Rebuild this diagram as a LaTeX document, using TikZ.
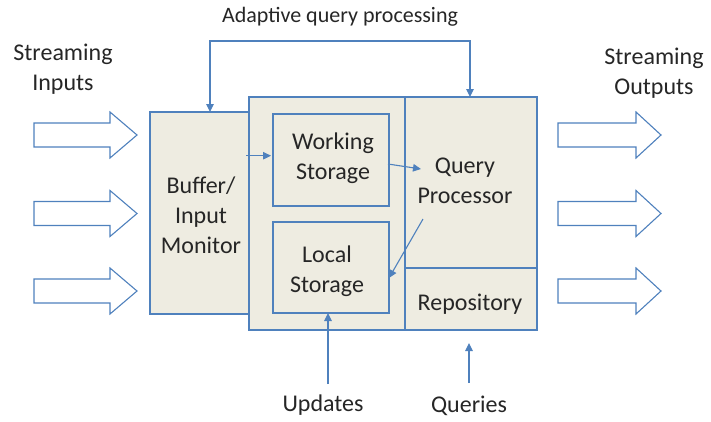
\documentclass[tikz,border=0pt]{standalone}
\usepackage{fontspec}
\setmainfont{Carlito}
\usetikzlibrary{arrows.meta}
\definecolor{lc}{HTML}{4F81BD}
\definecolor{fillc}{HTML}{EEECE1}
\definecolor{txt}{HTML}{262626}
\begin{document}
\begin{tikzpicture}[x=1pt,y=-1pt,
 box/.style={draw=lc,line width=1.3pt,fill=fillc,inner sep=0pt,outer sep=0pt,anchor=north west},
 region/.style={draw=lc,line width=1.3pt,inner sep=0pt,outer sep=0pt,anchor=north west},
 lbl/.style={text=txt,font=\fontsize{24}{30}\selectfont,align=center,inner sep=0pt},
 arr/.style={draw=lc,line width=1.1pt,-{Triangle[length=8pt,width=7.5pt]}},
 arrboth/.style={draw=lc,line width=1.1pt,{Triangle[length=8pt,width=7.5pt]}-{Triangle[length=8pt,width=7.5pt]}},
 fat/.style={draw=lc,line width=1.1pt,fill=white,line join=miter}]
\useasboundingbox (0,0) rectangle (711,421);
% main boxes
\node[box,minimum width=288pt,minimum height=233pt] (big) at (249,97) {};
\node[box,minimum width=99pt,minimum height=202pt] (buffer) at (150,112) {};
\node[region,minimum width=132pt,minimum height=171pt] (qp) at (405,97) {};
\node[region,minimum width=132pt,minimum height=62pt] (repo) at (405,268) {};
\node[region,minimum width=116pt,minimum height=92pt] (ws) at (273,114) {};
\node[region,minimum width=116pt,minimum height=91pt] (ls) at (273,222) {};
% labels
\node[lbl] (tbuf) at (201,215) {Buffer/\\Input\\Monitor};
\node[lbl] (tws) at (333,158.5) {Working\\Storage};
\node[lbl] (tqp) at (465,181) {Query\\Processor};
\node[lbl] (tls) at (327,271.5) {Local\\Storage};
\node[lbl] (trepo) at (470,304) {Repository};
\node[lbl] (tin) at (63,69) {Streaming\\Inputs};
\node[lbl] (tout) at (654,73) {Streaming\\Outputs};
\node[lbl] (tupd) at (323,405) {Updates};
\node[lbl] (tqry) at (469,406) {Queries};
\node[lbl,font=\fontsize{22}{26}\selectfont] (tadapt) at (340,17) {Adaptive query processing};
% fat arrows
\foreach \y in {135,213.5,291}{
 \draw[fat] (34,{\y-12}) -- (110,{\y-12}) -- (110,{\y-23}) -- (137,\y) -- (110,{\y+23}) -- (110,{\y+12}) -- (34,{\y+12}) -- cycle;
 \draw[fat] (558,{\y-12}) -- (636,{\y-12}) -- (636,{\y-23}) -- (661,\y) -- (636,{\y+23}) -- (636,{\y+12}) -- (558,{\y+12}) -- cycle;
}
% connectors
\coordinate (loopL) at (210,41);
\coordinate (loopR) at (470,41);
\draw[arrboth] (buffer.north -| loopL) -- (loopL) -- (loopR) -- (big.north -| loopR);
\coordinate (bw) at (246,155.7);
\coordinate (bwe) at (271,155.7);
\draw[arr] (bw) -- (bwe);
\coordinate (ws1) at (388,164);
\coordinate (qp1) at (421,169);
\draw[arr] (ws1) -- (qp1);
\coordinate (qp2) at (423,219);
\coordinate (ls1) at (389,278);
\draw[arr] (qp2) -- (ls1);
\coordinate (upd) at (328,384);
\draw[arr] (upd) -- (ls.south -| upd);
\coordinate (qa) at (469,383);
\coordinate (qb) at (469,343);
\draw[arr] (qa) -- (qb);
\end{tikzpicture}
\end{document}
